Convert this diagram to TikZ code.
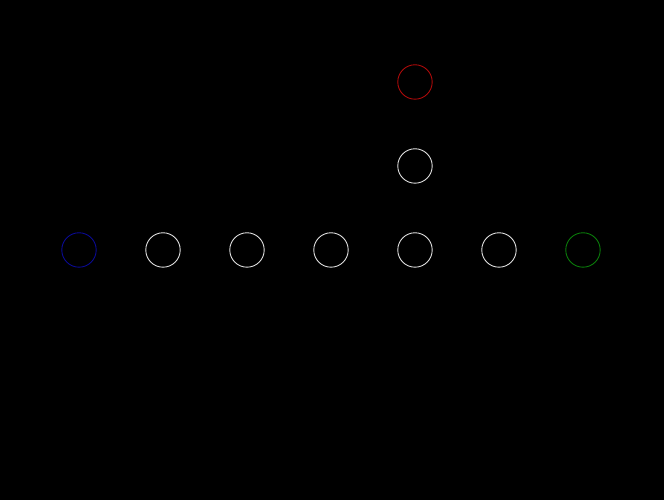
\documentclass[tikz,border=0pt]{standalone}
\usepackage{tikz}
\usetikzlibrary{positioning}

\definecolor{dotblue}{RGB}{10,10,150}
\definecolor{dotred}{RGB}{175,10,10}
\definecolor{dotgreen}{RGB}{10,125,10}
\definecolor{dotwhite}{RGB}{225,225,225}

\begin{document}
\begin{tikzpicture}[line width=0.6pt, dot/.style={circle, draw, inner sep=0pt, minimum size=0.82cm}]

% Fondo negro
\fill[black] (-1.881,-5.952) rectangle (13.929,5.952);
\useasboundingbox (-1.881,-5.952) rectangle (13.929,5.952);

% Fila de nodos
\node[dot, draw=dotblue] (start) at (0,0) {};
\node[dot, draw=dotwhite] (s1) at (2,0) {};
\node[dot, draw=dotwhite] (s2) at (4,0) {};
\node[dot, draw=dotwhite] (s3) at (6,0) {};
\node[dot, draw=dotwhite] (s4) at (8,0) {};
\node[dot, draw=dotwhite] (s5) at (10,0) {};
\node[dot, draw=dotgreen] (goal) at (12,0) {};

% Columna sobre s4
\node[dot, draw=dotwhite] (up1) at (8,2) {};
\node[dot, draw=dotred] (trap) at (8,4) {};

\end{tikzpicture}
\end{document}
